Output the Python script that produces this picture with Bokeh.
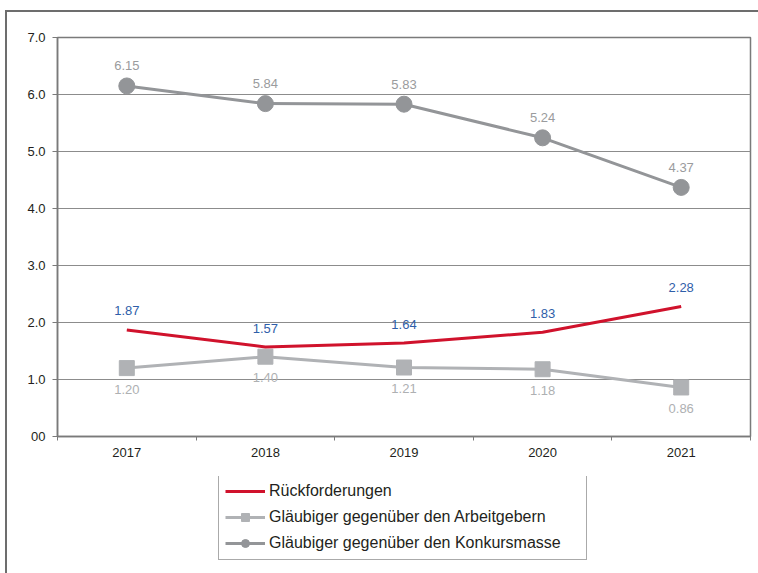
from bokeh.plotting import figure
from bokeh.layouts import column
from bokeh.models import (Range1d, FixedTicker, Legend, LegendItem, ColumnDataSource)
from bokeh.core.properties import value
from bokeh.embed import file_html
from bokeh.resources import INLINE

years = ["2017", "2018", "2019", "2020", "2021"]
rueckforderungen = [1.87, 1.57, 1.64, 1.83, 2.28]
arbeitgebern = [1.20, 1.40, 1.21, 1.18, 0.86]
konkursmasse = [6.15, 5.84, 5.83, 5.24, 4.37]
y_ticks = [0, 1, 2, 3, 4, 5, 6, 7]
y_tick_labels = ["00", "1.0", "2.0", "3.0", "4.0", "5.0", "6.0", "7.0"]
names = ["Rückforderungen",
         "Gläubiger gegenüber den Arbeitgebern",
         "Gläubiger gegenüber den Konkursmasse"]

FONT = "Liberation Sans"
RED = "#d0122c"
BLUE = "#2f5ea9"
GRAY_DARK = "#939598"
GRAY_LIGHT = "#b0b2b5"
AXIS = "#7a7a7a"
TEXT = "#231f20"

xs = [i + 0.5 for i in range(len(years))]

p = figure(width=751, height=464, output_backend="svg", toolbar_location=None,
           x_range=Range1d(0, len(years)), y_range=Range1d(0, 7),
           min_border_left=50, min_border_right=8, min_border_top=25, min_border_bottom=40)
p.background_fill_color = "white"
p.border_fill_color = "white"
p.outline_line_color = AXIS
p.outline_line_width = 1.5

# axes
xa = p.xaxis[0]
xa.ticker = FixedTicker(ticks=xs, minor_ticks=list(range(len(years) + 1)))
xa.major_label_overrides = {x: y for x, y in zip(xs, years)}
xa.major_tick_out = 0
xa.major_tick_in = 0
xa.minor_tick_out = 4
xa.minor_tick_in = 0
xa.minor_tick_line_color = AXIS
xa.axis_line_color = AXIS
xa.axis_line_width = 1.5
xa.major_label_standoff = 7
xa.major_label_text_font = FONT
xa.major_label_text_font_size = "13px"
xa.major_label_text_color = TEXT

ya = p.yaxis[0]
ya.ticker = FixedTicker(ticks=y_ticks)
ya.major_label_overrides = {t: l for t, l in zip(y_ticks, y_tick_labels)}
ya.major_tick_out = 5
ya.major_tick_in = 0
ya.minor_tick_out = 0
ya.minor_tick_in = 0
ya.major_tick_line_color = AXIS
ya.axis_line_color = AXIS
ya.axis_line_width = 1.5
ya.major_label_standoff = 7
ya.major_label_text_font = FONT
ya.major_label_text_font_size = "13px"
ya.major_label_text_color = TEXT

p.xgrid.grid_line_color = None
p.ygrid.ticker = FixedTicker(ticks=y_ticks)
p.ygrid.grid_line_color = "#8c8c8c"
p.ygrid.grid_line_width = 1

# series
src = ColumnDataSource(dict(
    x=xs,
    r=rueckforderungen, rl=[f"{v:.2f}" for v in rueckforderungen],
    a=arbeitgebern, al=[f"{v:.2f}" for v in arbeitgebern],
    k=konkursmasse, kl=[f"{v:.2f}" for v in konkursmasse],
))

k_style = dict(line_color=GRAY_DARK, line_width=3)
k_mark = dict(marker="circle", fill_color=GRAY_DARK, line_color=GRAY_DARK)
a_style = dict(line_color=GRAY_LIGHT, line_width=3)
a_mark = dict(marker="square", fill_color=GRAY_LIGHT, line_color=GRAY_LIGHT)
r_style = dict(line_color=RED, line_width=3)

p.line("x", "k", source=src, **k_style)
p.scatter("x", "k", source=src, size=16, **k_mark)
p.line("x", "a", source=src, **a_style)
p.scatter("x", "a", source=src, size=15, **a_mark)
p.line("x", "r", source=src, **r_style)

p.text("x", "k", text="kl", source=src, text_font=value(FONT), text_font_size="13px",
       text_color="#9a9b9d", text_align="center", text_baseline="middle", y_offset=-20)
p.text("x", "a", text="al", source=src, text_font=value(FONT), text_font_size="13px",
       text_color="#aeb0b2", text_align="center", text_baseline="middle", y_offset=21)
p.text("x", "r", text="rl", source=src, text_font=value(FONT), text_font_size="13px",
       text_color=BLUE, text_align="center", text_baseline="middle", y_offset=-19)

# legend panel (separate figure so the legend is not clipped);
# its series renderers sit outside its visible range, only the legend shows
leg = figure(width=751, height=97, output_backend="svg", toolbar_location=None,
             x_range=Range1d(0, len(years)), y_range=Range1d(100, 101),
             x_axis_location=None, y_axis_location=None,
             min_border=0, min_border_left=0, min_border_right=0,
             min_border_top=0, min_border_bottom=0)
leg.grid.visible = False
leg.outline_line_color = None
leg.background_fill_color = "white"
leg.border_fill_color = "white"

lr = leg.line("x", "r", source=src, **r_style)
la_l = leg.line("x", "a", source=src, **a_style)
la_m = leg.scatter("x", "a", source=src, size=10, **a_mark)
lk_l = leg.line("x", "k", source=src, **k_style)
lk_m = leg.scatter("x", "k", source=src, size=10, **k_mark)

legend = Legend(items=[
    LegendItem(label=names[0], renderers=[lr]),
    LegendItem(label=names[1], renderers=[la_l, la_m]),
    LegendItem(label=names[2], renderers=[lk_l, lk_m]),
], location=(161, 13))
legend.border_line_color = "#555555"
legend.border_line_width = 1.5
legend.padding = 6
legend.spacing = 6
legend.margin = 0
legend.glyph_width = 40
legend.glyph_height = 20
legend.label_height = 20
legend.label_standoff = 4
legend.label_width = 311
legend.label_text_font = FONT
legend.label_text_font_size = "16px"
legend.label_text_color = TEXT
legend.background_fill_color = "white"
legend.background_fill_alpha = 1
leg.add_layout(legend, "center")

layout = column(p, leg, spacing=0)
layout.styles = {"margin-left": "5px", "margin-top": "10px",
                 "border-left": "2px solid #6d6d6d", "border-top": "2px solid #6d6d6d"}

open("out.html", "w").write(file_html(layout, INLINE))
